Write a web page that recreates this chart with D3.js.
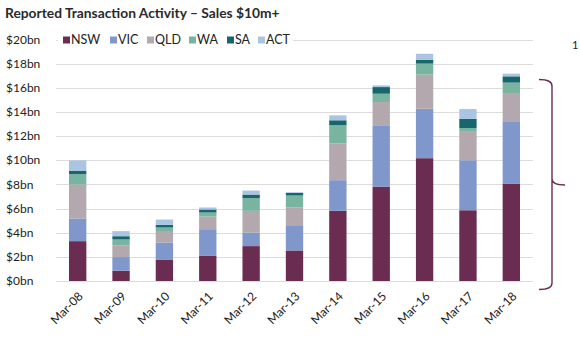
<!DOCTYPE html>
<html>
<head>
<meta charset="utf-8">
<script src="https://cdn.jsdelivr.net/npm/d3@7"></script>
<style>
  body { margin: 0; background: #fff; }
  svg { display: block; font-family: Lato, "Open Sans", sans-serif; }
  .grid line { stroke: #dcdcdc; stroke-width: 1; }
  .ylab { font-size: 12px; fill: #222; }
  .xlab { font-size: 12px; fill: #222; }
</style>
</head>
<body>
<div id="chart"></div>
<script>
const periods = ["Mar-08", "Mar-09", "Mar-10", "Mar-11", "Mar-12", "Mar-13", "Mar-14", "Mar-15", "Mar-16", "Mar-17", "Mar-18"]
const states = ["NSW", "VIC", "QLD", "WA", "SA", "ACT"]
// $bn per state
const nsw = [3.30, 0.85, 1.78, 2.08, 2.89, 2.53, 5.81, 7.82, 10.17, 5.86, 8.04]
const vic = [1.88, 1.13, 1.41, 2.21, 1.10, 2.09, 2.54, 5.02, 4.10, 4.14, 5.19]
const qld = [2.80, 0.96, 0.88, 1.05, 1.82, 1.47, 3.03, 1.98, 2.82, 2.42, 2.34]
const wa  = [0.88, 0.50, 0.36, 0.33, 1.05, 0.99, 1.52, 0.69, 0.91, 0.25, 0.86]
const sa  = [0.28, 0.27, 0.22, 0.25, 0.30, 0.22, 0.41, 0.55, 0.33, 0.75, 0.52]
const act = [0.85, 0.42, 0.44, 0.17, 0.33, 0.05, 0.41, 0.14, 0.49, 0.82, 0.22]
const yTicks = [0, 2, 4, 6, 8, 10, 12, 14, 16, 18, 20]
const colours = ["#6a2c50", "#7f97cb", "#b2a8ad", "#79b4a1", "#17666c", "#aac5e3"]

const w = 580, h = 352

const svg = d3.select("#chart").append("svg")
  .attr("width", w)
  .attr("height", h)

const x = d3.scaleBand()
  .domain(periods)
  .range([56, 533])
  .paddingInner(0.6)
  .paddingOuter(0.3)

const y = d3.scaleLinear()
  .domain([0, 20])
  .range([281, 39.5])

const rows = periods.map((p, i) => ({
  period: p, NSW: nsw[i], VIC: vic[i], QLD: qld[i], WA: wa[i], SA: sa[i], ACT: act[i]
}))
const stacked = d3.stack().keys(states)(rows)

// gridlines
svg.append("g")
  .attr("class", "grid")
  .selectAll("line")
  .data(yTicks)
  .join("line")
    .attr("x1", 56)
    .attr("x2", 533)
    .attr("y1", d => Math.round(y(d)) + 0.5)
    .attr("y2", d => Math.round(y(d)) + 0.5)

// y labels
svg.append("g")
  .selectAll("text")
  .data(yTicks)
  .join("text")
    .attr("class", "ylab")
    .attr("x", 6)
    .attr("y", d => y(d))
    .attr("dy", "0.35em")
    .text(d => "$" + d + "bn")

// bars
svg.append("g")
  .selectAll("g")
  .data(stacked)
  .join("g")
    .attr("fill", (d, i) => colours[i])
  .selectAll("rect")
  .data(d => d)
  .join("rect")
    .attr("x", d => x(d.data.period))
    .attr("width", x.bandwidth())
    .attr("y", d => y(d[1]))
    .attr("height", d => y(d[0]) - y(d[1]))

// x labels
svg.append("g")
  .selectAll("text")
  .data(periods)
  .join("text")
    .attr("class", "xlab")
    .attr("text-anchor", "end")
    .attr("transform", d => `translate(${x(d) + x.bandwidth() / 2 + 6}, 297) rotate(-45)`)
    .text(d => d)

// title
svg.append("text")
  .attr("x", 5)
  .attr("y", 18)
  .attr("font-size", "13.8px")
  .attr("font-weight", 700)
  .attr("fill", "#2a2a2a")
  .text("Reported Transaction Activity \u2013 Sales $10m+")

// legend, white box hides the top gridline under it
svg.append("rect")
  .attr("x", 58).attr("y", 31).attr("width", 235).attr("height", 18)
  .attr("fill", "#fff")
const lx = [63, 110, 147, 189, 227, 258]
states.forEach((s, i) => {
  svg.append("rect")
    .attr("x", lx[i]).attr("y", 36.5)
    .attr("width", 7).attr("height", 7)
    .attr("fill", colours[i])
  svg.append("text")
    .attr("x", lx[i] + 8).attr("y", 40)
    .attr("dy", "0.35em")
    .attr("font-size", "12.5px")
    .attr("fill", "#222")
    .text(s)
})

// bracket on the right
const br = d3.path()
br.moveTo(539, 79.5)
br.quadraticCurveTo(552, 79.5, 552, 86)
br.lineTo(552, 179)
br.quadraticCurveTo(552, 185, 565, 185)
br.moveTo(552, 179)
br.quadraticCurveTo(552, 185, 552, 191)
br.lineTo(552, 283)
br.quadraticCurveTo(552, 289.5, 539, 289.5)
svg.append("path")
  .attr("d", br.toString())
  .attr("fill", "none")
  .attr("stroke", "#6a2c50")
  .attr("stroke-width", 1.4)

svg.append("text")
  .attr("x", 572).attr("y", 49)
  .attr("font-size", "11px")
  .attr("fill", "#222")
  .text("1")
</script>
</body>
</html>
